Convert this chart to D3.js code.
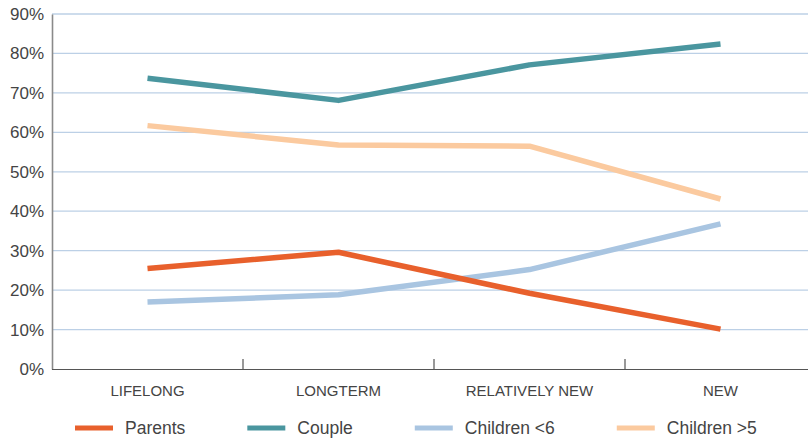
<!DOCTYPE html>
<html>
<head>
<meta charset="utf-8">
<script src="https://cdn.jsdelivr.net/npm/d3@7"></script>
<style>
  body { margin: 0; background: #fff; }
  svg { display: block; font-family: "Liberation Sans", Arial, sans-serif; }
</style>
</head>
<body>
<div id="chart"></div>
<script>
// Data
const categories = ["LIFELONG", "LONGTERM", "RELATIVELY NEW", "NEW"];
const seriesNames = ["Parents", "Couple", "Children <6", "Children >5"];
const parents = [25.5, 29.6, 19.2, 10.1];
const couple = [73.7, 68.1, 77.1, 82.4];
const childrenUnder6 = [17.0, 18.8, 25.2, 36.8];
const childrenOver5 = [61.7, 56.8, 56.5, 43.1];
const yTicks = [0, 10, 20, 30, 40, 50, 60, 70, 80, 90];

const seriesColors = ["#e8602c", "#4a969f", "#a9c5e1", "#fbca9f"];

const series = [parents, couple, childrenUnder6, childrenOver5].map((values, i) => ({
  name: seriesNames[i],
  color: seriesColors[i],
  values
}));

// Dimensions
const width = 808;
const height = 441;
const marginLeft = 52;
const marginTop = 14;
const plotBottom = 369;

const svg = d3
  .select("#chart")
  .append("svg")
  .attr("width", width)
  .attr("height", height)
  .attr("viewBox", [0, 0, width, height]);

// Scales (band range runs past the right edge, as in the reference)
const xScale = d3
  .scaleBand()
  .domain(categories)
  .range([marginLeft, 816])
  .padding(0);

const yScale = d3.scaleLinear().domain([0, 90]).range([plotBottom, marginTop]);

// Gridlines
svg
  .append("g")
  .attr("class", "grid")
  .selectAll("line")
  .data(yTicks.filter((d) => d > 0))
  .join("line")
  .attr("x1", marginLeft)
  .attr("x2", width)
  .attr("y1", (d) => yScale(d))
  .attr("y2", (d) => yScale(d))
  .attr("stroke", "#bcd0e6")
  .attr("stroke-width", 1.3);

// Y axis (left)
const yAxis = d3
  .axisLeft(yScale)
  .tickValues(yTicks)
  .tickSize(0)
  .tickPadding(8)
  .tickFormat((d) => d + "%");

svg
  .append("g")
  .attr("class", "y-axis")
  .attr("transform", `translate(${marginLeft},0)`)
  .call(yAxis)
  .call((g) => g.select(".domain").attr("stroke", "#8a8a8a").attr("stroke-width", 1.6))
  .call((g) =>
    g.selectAll("text").attr("font-size", 17).attr("fill", "#444").attr("font-family", "Liberation Sans, Arial, sans-serif")
  );

// X axis (bottom) with ticks at band boundaries pointing up
svg
  .append("line")
  .attr("x1", marginLeft)
  .attr("x2", width)
  .attr("y1", plotBottom + 0.5)
  .attr("y2", plotBottom + 0.5)
  .attr("stroke", "#555")
  .attr("stroke-width", 1.2);

svg
  .append("g")
  .attr("class", "x-ticks")
  .selectAll("line")
  .data(categories.slice(1))
  .join("line")
  .attr("x1", (d) => xScale(d))
  .attr("x2", (d) => xScale(d))
  .attr("y1", plotBottom - 10)
  .attr("y2", plotBottom)
  .attr("stroke", "#555")
  .attr("stroke-width", 1.2);

svg
  .append("g")
  .attr("class", "x-labels")
  .selectAll("text")
  .data(categories)
  .join("text")
  .attr("x", (d) => xScale(d) + xScale.bandwidth() / 2)
  .attr("y", 396)
  .attr("text-anchor", "middle")
  .attr("font-size", 15)
  .attr("fill", "#444")
  .text((d) => d);

// Lines
const line = d3
  .line()
  .x((d, i) => xScale(categories[i]) + xScale.bandwidth() / 2)
  .y((d) => yScale(d));

// draw order: light lines first, strong ones on top
const drawOrder = [3, 2, 1, 0];
svg
  .append("g")
  .attr("class", "lines")
  .selectAll("path")
  .data(drawOrder.map((i) => series[i]))
  .join("path")
  .attr("d", (d) => line(d.values))
  .attr("fill", "none")
  .attr("stroke", (d) => d.color)
  .attr("stroke-width", 5.5)
  .attr("stroke-linejoin", "round");

// Legend, laid out left to right by text width
const legend = svg.append("g").attr("class", "legend");
let lx = 75;
const ly = 428;
series.forEach((s) => {
  legend
    .append("line")
    .attr("x1", lx)
    .attr("x2", lx + 38)
    .attr("y1", ly)
    .attr("y2", ly)
    .attr("stroke", s.color)
    .attr("stroke-width", 5);
  const t = legend
    .append("text")
    .attr("x", lx + 50)
    .attr("y", ly + 6)
    .attr("font-size", 17.5)
    .attr("fill", "#444")
    .text(s.name);
  lx += 50 + t.node().getComputedTextLength() + 62;
});
</script>
</body>
</html>
